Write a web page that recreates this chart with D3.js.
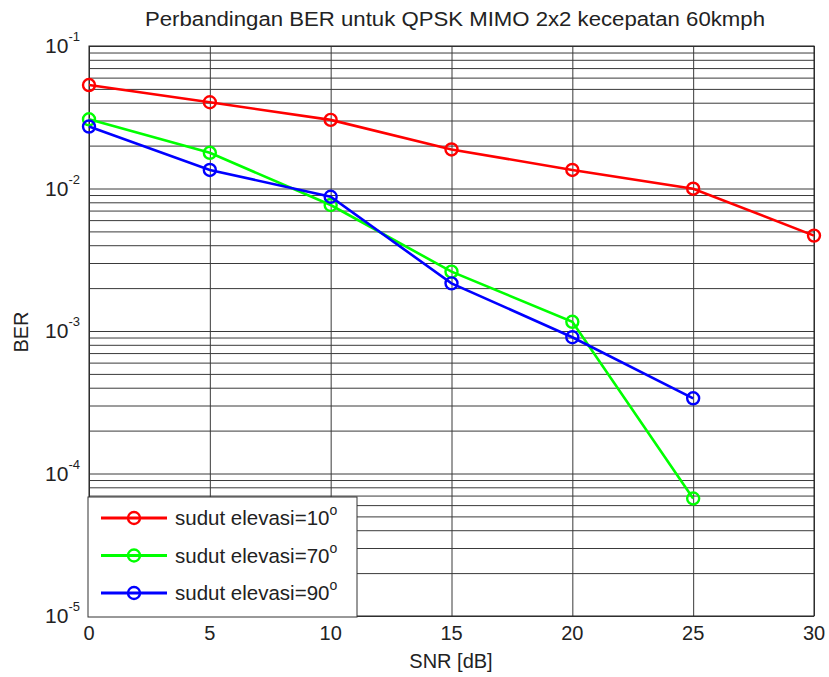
<!DOCTYPE html>
<html>
<head>
<meta charset="utf-8">
<script src="https://cdn.jsdelivr.net/npm/d3@7"></script>
<style>
  html, body { margin: 0; padding: 0; background: #fff; }
  svg { display: block; }
</style>
</head>
<body>
<svg id="chart" width="829" height="677"></svg>
<script>
var snr = [0, 5, 10, 15, 20, 25, 30];
var seriesNames = ['sudut elevasi=10', 'sudut elevasi=70', 'sudut elevasi=90'];
var seriesColors = ['#ff0000', '#00ff00', '#0000ff'];
var ber10 = [0.0532, 0.0403, 0.0303, 0.0188, 0.0135, 0.00997, 0.00467];
var ber70 = [0.0306, 0.0178, 0.00766, 0.00261, 0.00116, 0.0000668];
var ber90 = [0.0272, 0.0135, 0.00875, 0.00216, 0.000904, 0.000337];
var xTicks = [0, 5, 10, 15, 20, 25, 30];
var yExponents = [-1, -2, -3, -4, -5];

var chartTitle = 'Perbandingan BER untuk QPSK MIMO 2x2 kecepatan 60kmph';
var xLabel = 'SNR [dB]';
var yLabel = 'BER';

var font = 'Liberation Sans, Arial, Helvetica, sans-serif';

var width = 829, height = 677;
var margin = { top: 46, right: 15, bottom: 61, left: 89 };
var innerWidth = width - margin.left - margin.right;
var innerHeight = height - margin.top - margin.bottom;

var svg = d3.select('#chart');
svg.append('rect').attr('width', width).attr('height', height).attr('fill', '#fff');

// scales in page coordinates
var x = d3.scaleLinear().domain([0, 30]).range([margin.left, margin.left + innerWidth]);
var y = d3.scaleLog().domain([1e-5, 1e-1]).range([margin.top + innerHeight, margin.top]);

// minor + major horizontal grid (1..9 x 10^k)
var gridValues = [];
for (var e = -5; e <= -1; e++) {
  for (var m = 1; m <= 9; m++) {
    var v = m * Math.pow(10, e);
    if (v <= 0.1 + 1e-12) gridValues.push(v);
  }
}

svg.append('g')
  .attr('class', 'ygrid')
  .attr('transform', 'translate(' + margin.left + ',0)')
  .call(d3.axisLeft(y).tickValues(gridValues).tickSize(-innerWidth).tickFormat(''))
  .call(function (s) {
    s.select('.domain').remove();
    s.selectAll('text').remove();
    s.selectAll('line').attr('stroke', '#3a3a3a').attr('stroke-width', 1);
  });

svg.append('g')
  .attr('class', 'xgrid')
  .attr('transform', 'translate(0,' + (margin.top + innerHeight) + ')')
  .call(d3.axisBottom(x).tickValues(xTicks).tickSize(-innerHeight).tickFormat(''))
  .call(function (s) {
    s.select('.domain').remove();
    s.selectAll('text').remove();
    s.selectAll('line').attr('stroke', '#3a3a3a').attr('stroke-width', 1);
  });

// box
svg.append('rect')
  .attr('x', margin.left)
  .attr('y', margin.top)
  .attr('width', innerWidth)
  .attr('height', innerHeight)
  .attr('fill', 'none')
  .attr('stroke', '#222')
  .attr('stroke-width', 1);

// x tick labels
svg.append('g')
  .attr('class', 'xlabels')
  .selectAll('text')
  .data(xTicks)
  .enter()
  .append('text')
  .attr('x', function (d) { return x(d); })
  .attr('y', margin.top + innerHeight + 24)
  .attr('text-anchor', 'middle')
  .attr('font-family', font)
  .attr('font-size', '20px')
  .attr('fill', '#222')
  .text(function (d) { return d; });

// y tick labels 10^k
var yLab = svg.append('g').attr('class', 'ylabels');
yExponents.forEach(function (k) {
  var t = yLab.append('text')
    .attr('x', margin.left - 9)
    .attr('y', y(Math.pow(10, k)) + 7)
    .attr('text-anchor', 'end')
    .attr('font-family', font)
    .attr('font-size', '21px')
    .attr('fill', '#222');
  t.append('tspan').text('10');
  t.append('tspan')
    .attr('font-size', '13px')
    .attr('dy', -12)
    .text(String(k));
});

// title and axis labels
svg.append('text')
  .attr('x', 455)
  .attr('y', 26)
  .attr('text-anchor', 'middle')
  .attr('font-family', font)
  .attr('font-size', '20px')
  .attr('fill', '#222')
  .attr('textLength', 620)
  .attr('lengthAdjust', 'spacingAndGlyphs')
  .text(chartTitle);

svg.append('text')
  .attr('x', 451)
  .attr('y', 668)
  .attr('text-anchor', 'middle')
  .attr('font-family', font)
  .attr('font-size', '20px')
  .attr('fill', '#222')
  .text(xLabel);

svg.append('text')
  .attr('transform', 'translate(28,332) rotate(-90)')
  .attr('text-anchor', 'middle')
  .attr('font-family', font)
  .attr('font-size', '20px')
  .attr('fill', '#222')
  .text(yLabel);

// series
var series = [ber10, ber70, ber90];
var line = d3.line()
  .x(function (d) { return x(d[0]); })
  .y(function (d) { return y(d[1]); });

series.forEach(function (vals, i) {
  var pts = vals.map(function (v, j) { return [snr[j], v]; });
  var sg = svg.append('g').attr('class', 'series');
  sg.append('path')
    .attr('d', line(pts))
    .attr('fill', 'none')
    .attr('stroke', seriesColors[i])
    .attr('stroke-width', 2.6);
  sg.selectAll('circle')
    .data(pts)
    .enter()
    .append('circle')
    .attr('cx', function (d) { return x(d[0]); })
    .attr('cy', function (d) { return y(d[1]); })
    .attr('r', 6)
    .attr('fill', 'none')
    .attr('stroke', seriesColors[i])
    .attr('stroke-width', 2.4);
});

// legend
var legend = svg.append('g').attr('transform', 'translate(88,497)');
legend.append('rect')
  .attr('width', 269)
  .attr('height', 120)
  .attr('fill', '#fff')
  .attr('stroke', '#333')
  .attr('stroke-width', 1);

seriesNames.forEach(function (name, i) {
  var ry = 21 + i * 37.5;
  legend.append('line')
    .attr('x1', 13).attr('x2', 79)
    .attr('y1', ry).attr('y2', ry)
    .attr('stroke', seriesColors[i])
    .attr('stroke-width', 2.8);
  legend.append('circle')
    .attr('cx', 46).attr('cy', ry)
    .attr('r', 6)
    .attr('fill', 'none')
    .attr('stroke', seriesColors[i])
    .attr('stroke-width', 2.4);
  var t = legend.append('text')
    .attr('x', 87)
    .attr('y', ry + 7)
    .attr('font-family', font)
    .attr('font-size', '20.5px')
    .attr('fill', '#222');
  t.append('tspan').text(name);
  t.append('tspan')
    .attr('font-size', '14px')
    .attr('dy', -10)
    .text('o');
});
</script>
</body>
</html>
